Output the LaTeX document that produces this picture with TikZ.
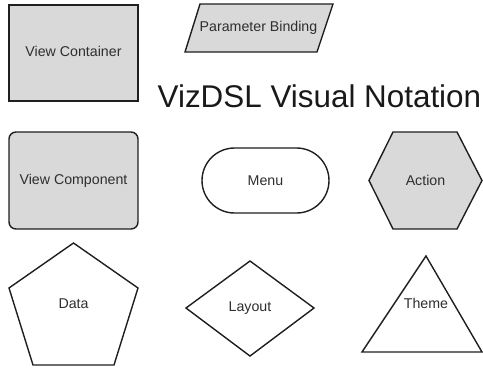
\documentclass[tikz,border=0pt]{standalone}
\usepackage{fontspec}
\setmainfont{Liberation Sans}
\definecolor{shapefill}{HTML}{D9D9D9}
\definecolor{edge}{HTML}{1F1F1F}
\definecolor{labelink}{HTML}{2E2E2E}
\tikzset{
  outline/.style={draw=edge, line width=1.4pt, line join=miter},
  filled/.style={outline, fill=shapefill},
  plain/.style={outline, fill=white},
  lbl/.style={text=labelink, font=\fontsize{14.2}{16}\selectfont, inner sep=0pt},
}
\begin{document}
\begin{tikzpicture}[x=1pt, y=-1pt]
  \useasboundingbox (0,0) rectangle (483,368);

  % View Container: plain rectangle
  \draw[filled] (9,5) rectangle (138,101);
  \node[lbl] (container) at (73.5,51) {View Container};

  % Parameter Binding: parallelogram
  \draw[filled] (200,4) -- (333,4) -- (317,52) -- (185,52) -- cycle;
  \node[lbl] (binding) at (258.5,28) {Parameter Binding};

  % Heading
  \node[anchor=base west, inner sep=0pt, text=black!90,
        font=\fontsize{31.4}{36}\selectfont] (title) at (157.5,107) {VizDSL Visual Notation};

  % View Component: rounded rectangle
  \draw[filled, rounded corners=7pt] (9,132) rectangle (138,229);
  \node[lbl] (component) at (73.5,180.5) {View Component};

  % Menu: stadium
  \draw[plain, rounded corners=32.5pt] (202,148) rectangle (329,213);
  \node[lbl] (menu) at (265.5,180.5) {Menu};

  % Action: hexagon
  \draw[filled] (369,180.5) -- (393,132) -- (457,132) -- (482,180.5) -- (457,229) -- (393,229) -- cycle;
  \node[lbl] (action) at (425.5,180.5) {Action};

  % Data: pentagon
  \draw[plain] (73.5,243) -- (138,288) -- (114,365) -- (33,365) -- (9,288) -- cycle;
  \node[lbl] (data) at (73.5,303.5) {Data};

  % Layout: diamond
  \draw[plain] (250,261) -- (314,308) -- (250,356) -- (186,308) -- cycle;
  \node[lbl] (layout) at (250,308) {Layout};

  % Theme: triangle
  \draw[plain] (426,256) -- (482,352) -- (362,352) -- cycle;
  \node[lbl] (theme) at (426,303) {Theme};
\end{tikzpicture}
\end{document}
